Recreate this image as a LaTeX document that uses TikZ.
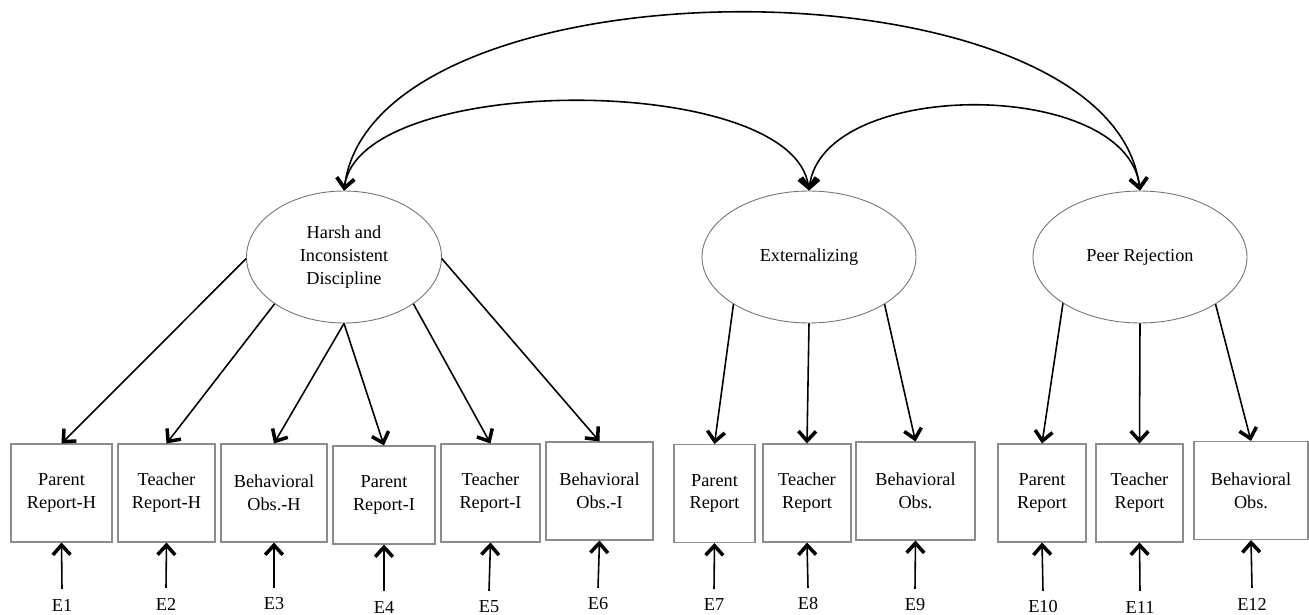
\documentclass[tikz,border=0pt]{standalone}
\usepackage{fontspec}
\setmainfont{Liberation Serif}
\usetikzlibrary{arrows.meta,shapes.geometric}
\begin{document}
\begin{tikzpicture}[x=0.02cm,y=-0.02cm,
  every node/.style={font=\fontsize{10.4}{13}\selectfont},
  obsbox/.style={draw=black!45,line width=0.6pt,rectangle,inner sep=0pt,align=center,minimum height=1.96cm},
  latent/.style={draw=black!55,line width=0.5pt,ellipse,inner sep=0pt,align=center,minimum height=2.64cm},
  elabel/.style={inner sep=0pt},
  tip/.tip={Straight Barb[length=5.5pt,width=10pt,line width=2pt]},
  arr/.style={line width=0.9pt,-tip},
  dblarr/.style={line width=0.9pt,tip-tip}]
\useasboundingbox (0,0) rectangle (1309,615);

% latent variables
\node[latent,minimum width=3.9cm] (h) at (344,257) {Harsh and\\Inconsistent\\Discipline};
\node[latent,minimum width=4.28cm] (ext) at (809,257) {Externalizing};
\node[latent,minimum width=4.28cm] (pr) at (1140,257) {Peer Rejection};

% observed boxes
\node[obsbox,minimum width=2.02cm] (b1) at (61.5,493) {Parent\\Report-H};
\node[obsbox,minimum width=1.94cm] (b2) at (166.5,493) {Teacher\\Report-H};
\node[obsbox,minimum width=2.12cm] (b3) at (274,493) {Behavioral\\Obs.-H};
\node[obsbox,minimum width=2.04cm] (b4) at (384,495) {Parent\\Report-I};
\node[obsbox,minimum width=1.98cm] (b5) at (490.5,493) {Teacher\\Report-I};
\node[obsbox,minimum width=2.14cm] (b6) at (599.5,491) {Behavioral\\Obs.-I};
\node[obsbox,minimum width=1.62cm] (b7) at (714.5,493.5) {Parent\\Report};
\node[obsbox,minimum width=1.76cm] (b8) at (807,493) {Teacher\\Report};
\node[obsbox,minimum width=2.38cm] (b9) at (915.5,491) {Behavioral\\Obs.};
\node[obsbox,minimum width=1.76cm] (b10) at (1042,493) {Parent\\Report};
\node[obsbox,minimum width=1.74cm] (b11) at (1139.5,493) {Teacher\\Report};
\node[obsbox,minimum width=2.28cm] (b12) at (1251,490.5) {Behavioral\\Obs.};

% error labels
\node[elabel] (e1) at (62,605) {E1};
\node[elabel] (e2) at (166,604) {E2};
\node[elabel] (e3) at (274,604) {E3};
\node[elabel] (e4) at (384,607) {E4};
\node[elabel] (e5) at (489,607) {E5};
\node[elabel] (e6) at (598,604) {E6};
\node[elabel] (e7) at (714,605) {E7};
\node[elabel] (e8) at (808,604) {E8};
\node[elabel] (e9) at (915,605) {E9};
\node[elabel] (e10) at (1043,607) {E10};
\node[elabel] (e11) at (1140,607) {E11};
\node[elabel] (e12) at (1252,604) {E12};

% error arrows
\foreach \i in {1,...,12}{
  \draw[arr] ([yshift=5.5pt]e\i.north) -- (b\i.south);
}

% loadings
\draw[arr] (h.181) -- (b1.north);
\draw[arr] (h.214) -- (b2.north);
\draw[arr] (h.south) -- (b3.north);
\draw[arr] (h.south) -- (b4.north);
\draw[arr] (h.326) -- (b5.north);
\draw[arr] (h.359) -- (b6.north);
\draw[arr] (ext.212) -- (b7.north);
\draw[arr] (ext.south) -- (b8.north);
\draw[arr] (ext.328) -- (b9.north);
\draw[arr] (pr.211) -- (b10.north);
\draw[arr] (pr.south) -- (b11.north);
\draw[arr] (pr.328) -- (b12.north);

% covariances
\draw[dblarr] (h.north) .. controls +(30,-237) and +(-30,-237) .. (pr.north);
\draw[dblarr] (h.north) .. controls +(15,-119) and +(-15,-119) .. (ext.north);
\draw[dblarr] (ext.north) .. controls +(13,-113) and +(-13,-113) .. (pr.north);
\end{tikzpicture}
\end{document}
